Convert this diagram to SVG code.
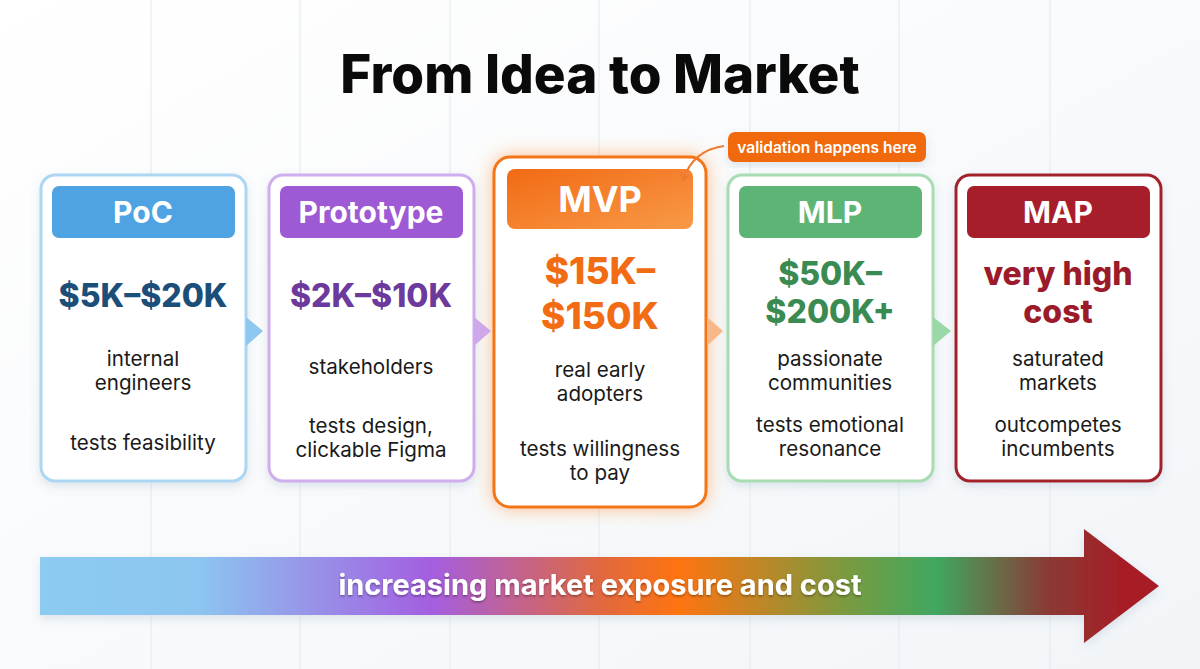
<svg xmlns="http://www.w3.org/2000/svg" width="1200" height="669" viewBox="0 0 1200 669">
<defs>
<linearGradient id="bg" x1="0" y1="0" x2="1" y2="1">
<stop offset="0" stop-color="#ffffff"/><stop offset="1" stop-color="#f2f5f8"/>
</linearGradient>
<linearGradient id="bar" x1="40" y1="0" x2="1160" y2="0" gradientUnits="userSpaceOnUse">
<stop offset="0" stop-color="#8ccbf2"/>
<stop offset="0.14" stop-color="#8cc6f0"/>
<stop offset="0.35" stop-color="#a45ee0"/>
<stop offset="0.5" stop-color="#e06840"/>
<stop offset="0.57" stop-color="#ff7410"/>
<stop offset="0.72" stop-color="#7a9a40"/>
<stop offset="0.8" stop-color="#40a860"/>
<stop offset="0.9" stop-color="#8a3a34"/>
<stop offset="0.97" stop-color="#a81c26"/>
<stop offset="1" stop-color="#a81c26"/>
</linearGradient>
<linearGradient id="mvpHead" x1="0" y1="0" x2="1" y2="1">
<stop offset="0" stop-color="#f26a14"/><stop offset="1" stop-color="#f89a48"/>
</linearGradient>
<filter id="sh" x="-10%" y="-10%" width="120%" height="130%">
<feDropShadow dx="0" dy="4" stdDeviation="5" flood-color="#6080a0" flood-opacity="0.18"/>
</filter>
<filter id="glow" x="-20%" y="-20%" width="140%" height="140%">
<feDropShadow dx="0" dy="0" stdDeviation="9" flood-color="#ff8a30" flood-opacity="0.55"/>
</filter>
<filter id="tsh" x="-5%" y="-20%" width="110%" height="150%">
<feDropShadow dx="0" dy="1.5" stdDeviation="1.2" flood-color="#000" flood-opacity="0.35"/>
</filter>
<marker id="ah" markerWidth="10" markerHeight="10" refX="7" refY="5" orient="auto" markerUnits="userSpaceOnUse">
<path d="M1,1 L7,5 L1,9" fill="none" stroke="#f07a30" stroke-width="2.2" stroke-linecap="round" stroke-linejoin="round"/>
</marker>
</defs>
<style>
text{font-family:Inter,"Noto Sans","Liberation Sans",sans-serif;text-anchor:middle}
.card{fill:#fff;stroke-width:3}
.hd{font-size:30px;font-weight:700;fill:#fff}
.pr{font-size:32px;font-weight:800}
.bd{font-size:20.6px;fill:#1a1a1a}
.grid{stroke:#e4e9ee;stroke-width:1}
</style>
<rect width="1200" height="669" fill="url(#bg)"/>
<g id="grid">
<line class="grid" x1="151" y1="0" x2="151" y2="669"/>
<line class="grid" x1="300" y1="0" x2="300" y2="669"/>
<line class="grid" x1="450" y1="0" x2="450" y2="669"/>
<line class="grid" x1="599" y1="0" x2="599" y2="669"/>
<line class="grid" x1="750" y1="0" x2="750" y2="669"/>
<line class="grid" x1="899" y1="0" x2="899" y2="669"/>
<line class="grid" x1="1050" y1="0" x2="1050" y2="669"/>
</g>
<text id="title" x="600" y="93" style="font-size:53px;font-weight:800;fill:#0a0a0a">From Idea to Market</text>

<g id="poc">
<rect class="card" x="41" y="175" width="205" height="306" rx="14" stroke="#acd6f2" filter="url(#sh)"/>
<rect x="52" y="186" width="183" height="52" rx="7" fill="#4fa3e3"/>
<text class="hd" x="143" y="223">PoC</text>
<text class="pr" x="143" y="307" fill="#1b4e78">$5K–$20K</text>
<text class="bd" x="143" y="366">internal</text>
<text class="bd" x="143" y="390">engineers</text>
<text class="bd" x="143" y="450">tests feasibility</text>
</g>

<g id="prototype">
<rect class="card" x="269" y="175" width="205" height="306" rx="14" stroke="#cfaeee" filter="url(#sh)"/>
<rect x="280" y="186" width="183" height="52" rx="7" fill="#9d5ad4"/>
<text class="hd" x="371" y="223">Prototype</text>
<text class="pr" x="371" y="307" fill="#6b3a9c">$2K–$10K</text>
<text class="bd" x="371" y="374">stakeholders</text>
<text class="bd" x="371" y="433">tests design,</text>
<text class="bd" x="371" y="457">clickable Figma</text>
</g>

<g id="mvp">
<rect class="card" x="494" y="157" width="212" height="350" rx="16" stroke="#f27418" stroke-width="4.5" filter="url(#glow)"/>
<rect x="507" y="169" width="186" height="60" rx="8" fill="url(#mvpHead)"/>
<text class="hd" x="600" y="212" style="font-size:36px">MVP</text>
<text class="pr" x="600" y="284" fill="#f26c14" style="font-size:37px">$15K–</text>
<text class="pr" x="600" y="329" fill="#f26c14" style="font-size:37px">$150K</text>
<text class="bd" x="600" y="377">real early</text>
<text class="bd" x="600" y="401">adopters</text>
<text class="bd" x="600" y="456">tests willingness</text>
<text class="bd" x="600" y="480">to pay</text>
</g>

<g id="mlp">
<rect class="card" x="728" y="175" width="205" height="306" rx="14" stroke="#a8dcb2" filter="url(#sh)"/>
<rect x="739" y="186" width="183" height="52" rx="7" fill="#5cb574"/>
<text class="hd" x="830" y="223">MLP</text>
<text class="pr" x="830" y="285" fill="#3a8b52">$50K–</text>
<text class="pr" x="830" y="323" fill="#3a8b52">$200K+</text>
<text class="bd" x="830" y="366">passionate</text>
<text class="bd" x="830" y="390">communities</text>
<text class="bd" x="830" y="432">tests emotional</text>
<text class="bd" x="830" y="456">resonance</text>
</g>

<g id="map">
<rect class="card" x="956" y="175" width="205" height="306" rx="14" stroke="#a3202c" filter="url(#sh)"/>
<rect x="967" y="186" width="183" height="52" rx="7" fill="#a81d2a"/>
<text class="hd" x="1058" y="223">MAP</text>
<text class="pr" x="1058" y="285" fill="#9c1b2a">very high</text>
<text class="pr" x="1058" y="323" fill="#9c1b2a">cost</text>
<text class="bd" x="1058" y="366">saturated</text>
<text class="bd" x="1058" y="390">markets</text>
<text class="bd" x="1058" y="432">outcompetes</text>
<text class="bd" x="1058" y="456">incumbents</text>
</g>

<g id="callout">
<rect x="728" y="132" width="198" height="30" rx="7" fill="#f06a10" filter="url(#sh)"/>
<text x="827" y="152.5" style="font-size:15.5px;font-weight:600;fill:#fff">validation happens here</text>
</g>

<g id="connectors">
<path d="M246,317 L263,331 L246,346 Z" fill="#8ec8f0"/>
<path d="M474,317 L491,331 L474,346 Z" fill="#cfa8ec"/>
<path d="M707,317 L723,331 L707,346 Z" fill="#f8b888"/>
<path d="M933,317 L951,331 L933,346 Z" fill="#9ad8a8"/>
<path d="M724,146 C702,149 689,162 683,180" fill="none" stroke="#f07a30" stroke-width="2.2" marker-end="url(#ah)"/>
</g>

<g id="bottom-arrow">
<path d="M40,557 L1084,557 L1084,529 L1159,586 L1084,643 L1084,615 L40,615 Z" fill="url(#bar)" filter="url(#sh)"/>
<text x="600" y="595" filter="url(#tsh)" style="font-size:29px;font-weight:700;fill:#fff">increasing market exposure and cost</text>
</g>
</svg>
